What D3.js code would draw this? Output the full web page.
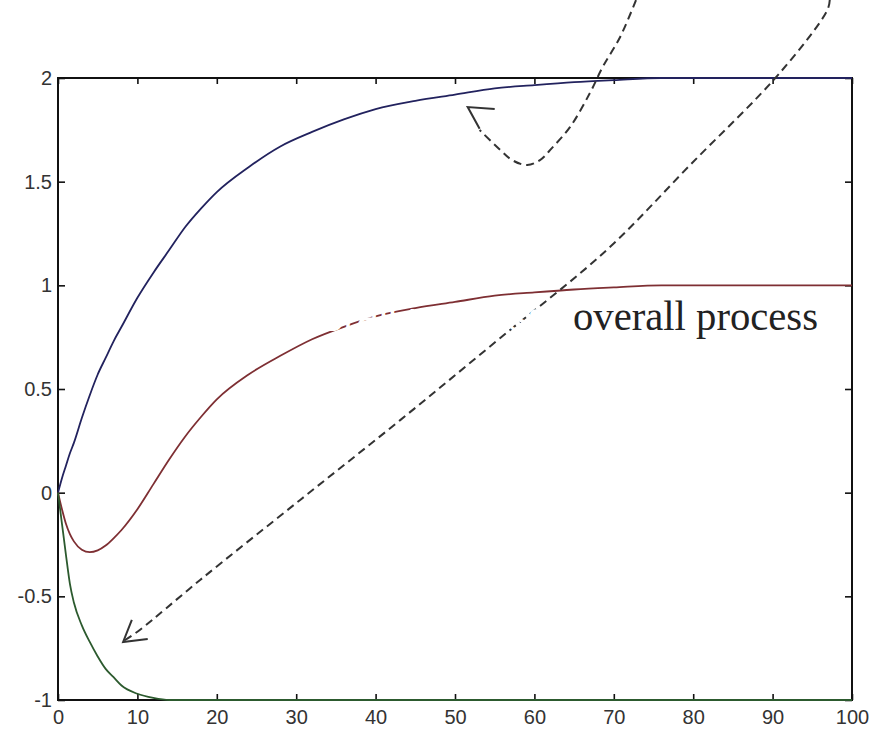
<!DOCTYPE html>
<html>
<head>
<meta charset="utf-8">
<script src="https://cdn.jsdelivr.net/npm/d3@7"></script>
<style>
    body { margin: 0; background: #fff; }
    svg { display: block; }
    .tick text { font-family: "Liberation Sans", Arial, sans-serif; fill: #333; }
</style>
</head>
<body>
<div class="chart"></div>
<script>
// time axis samples and the three responses
var time    = [0, 0.5, 1, 1.5, 2, 3, 4, 5, 6, 7, 8, 10, 12, 14, 16, 18, 20, 24, 28, 32, 36, 40, 45, 50, 55, 60, 65, 70, 76, 85, 100];
var upper   = [0, 0.07, 0.13, 0.19, 0.24, 0.36, 0.47, 0.57, 0.65, 0.73, 0.80, 0.94, 1.06, 1.17, 1.28, 1.37, 1.45, 1.57, 1.67, 1.74, 1.80, 1.85, 1.89, 1.92, 1.95, 1.966, 1.98, 1.99, 2.0, 2.0, 2.0];
var overall = [0, -0.08, -0.15, -0.20, -0.235, -0.275, -0.287, -0.278, -0.255, -0.22, -0.18, -0.08, 0.04, 0.16, 0.27, 0.365, 0.45, 0.57, 0.66, 0.74, 0.80, 0.85, 0.89, 0.92, 0.95, 0.966, 0.98, 0.99, 1.0, 1.0, 1.0];
var lower   = [0, -0.15, -0.3, -0.44, -0.53, -0.64, -0.72, -0.79, -0.85, -0.89, -0.93, -0.97, -0.99, -1, -1, -1, -1, -1, -1, -1, -1, -1, -1, -1, -1, -1, -1, -1, -1, -1, -1];

var xTicks = [0, 10, 20, 30, 40, 50, 60, 70, 80, 90, 100];
var yTicks = [-1, -0.5, 0, 0.5, 1, 1.5, 2];

// hand-drawn dashed arrows (data coordinates)
var arrowA     = [[72.8, 2.376], [70.8, 2.198], [68.6, 2.053], [67.0, 1.928], [64.5, 1.764], [62.2, 1.662], [60.7, 1.604], [59.1, 1.580], [57.2, 1.604], [55.7, 1.653], [53.1, 1.749]];
var arrowAHead = [[55.0, 1.850], [51.6, 1.860], [53.1, 1.755]];
var arrowB     = [[97.2, 2.376], [96.9, 2.328], [90.9, 2.024], [79.6, 1.58], [69.1, 1.170], [55.7, 0.746], [43.1, 0.350], [30.5, -0.035], [17.9, -0.421], [10.3, -0.662], [8.4, -0.712]];
var arrowBHead = [[9.3, -0.614], [8.2, -0.720], [11.3, -0.706]];

var label = "overall process";

var W = 874, H = 735;
var x = d3.scaleLinear().domain([0, 100]).range([58, 852]);
var y = d3.scaleLinear().domain([-1, 2]).range([700, 78]);

var svg = d3.select(".chart").append("svg")
    .attr("width", W)
    .attr("height", H);

//axes box
svg.append("rect")
    .attr("x", x(0)).attr("y", y(2))
    .attr("width", x(100) - x(0)).attr("height", y(-1) - y(2))
    .attr("fill", "#fff").attr("stroke", "#111").attr("stroke-width", 2);

//ticks, pointing inward on all four sides
var plain = function (d) { return String(d); };
var bottom = svg.append("g").attr("transform", "translate(0," + y(-1) + ")")
    .call(d3.axisBottom(x).tickValues(xTicks).tickSize(-6).tickPadding(14).tickFormat(plain));
var left = svg.append("g").attr("transform", "translate(" + x(0) + ",0)")
    .call(d3.axisLeft(y).tickValues(yTicks).tickSize(-7).tickPadding(14).tickFormat(plain));
svg.append("g").attr("transform", "translate(0," + y(2) + ")")
    .call(d3.axisTop(x).tickValues(xTicks).tickSize(-6).tickFormat(""));
svg.append("g").attr("transform", "translate(" + x(100) + ",0)")
    .call(d3.axisRight(y).tickValues(yTicks).tickSize(-7).tickFormat(""));

svg.selectAll(".domain").remove();
svg.selectAll(".tick line").attr("stroke", "#111").attr("stroke-width", 1.6);
bottom.selectAll("text").attr("font-size", 20).attr("dy", "0.5em");
left.selectAll("text").attr("font-size", 20).attr("dx", 8);

//response curves
var series = [
    { values: upper,   color: "#22225e" },
    { values: overall, color: "#7e2f33" },
    { values: lower,   color: "#2c5a2e" }
];

var line = d3.line()
    .x(function (d) { return x(d[0]); })
    .y(function (d) { return y(d[1]); })
    .curve(d3.curveMonotoneX);

svg.selectAll(".curve")
    .data(series)
    .enter()
    .append("path")
    .attr("class", "curve")
    .attr("d", function (s) { return line(time.map(function (t, i) { return [t, s.values[i]]; })); })
    .attr("fill", "none")
    .attr("stroke", function (s) { return s.color; })
    .attr("stroke-width", 1.8);

//dashed arrows
var freeLine = d3.line()
    .x(function (d) { return x(d[0]); })
    .y(function (d) { return y(d[1]); })
    .curve(d3.curveCatmullRom.alpha(0.5));

[arrowA, arrowB].forEach(function (pts) {
    svg.append("path")
        .attr("d", freeLine(pts))
        .attr("fill", "none")
        .attr("stroke", "#333")
        .attr("stroke-width", 2)
        .attr("stroke-dasharray", "8,5");
});

[arrowAHead, arrowBHead].forEach(function (pts) {
    svg.append("path")
        .attr("d", d3.line().x(function (d) { return x(d[0]); }).y(function (d) { return y(d[1]); })(pts))
        .attr("fill", "none")
        .attr("stroke", "#333")
        .attr("stroke-width", 2);
});

//erased label left behind in white
svg.append("text")
    .attr("x", 279).attr("y", 331)
    .attr("font-family", "Liberation Sans, Arial, sans-serif")
    .attr("font-size", 40)
    .attr("fill", "#fff")
    .text(label);

//label
svg.append("text")
    .attr("x", 573).attr("y", 330)
    .attr("font-family", "Liberation Serif, Times New Roman, serif")
    .attr("font-size", 42)
    .attr("textLength", 245)
    .attr("lengthAdjust", "spacingAndGlyphs")
    .attr("fill", "#222")
    .text(label);
</script>
</body>
</html>
